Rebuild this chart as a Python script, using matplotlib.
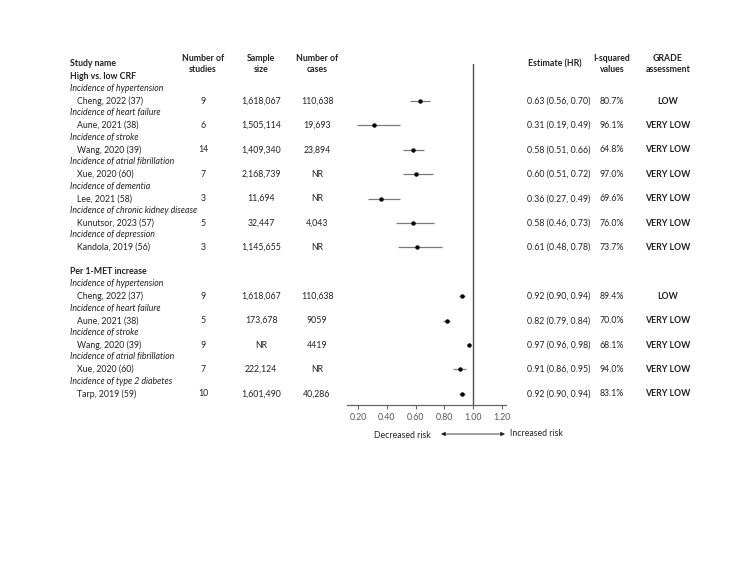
import matplotlib
matplotlib.use("Agg")
import matplotlib.pyplot as plt

plt.rcParams['font.family'] = ['Lato', 'DejaVu Sans']

# ---- data ----
group1_title = "High vs. low CRF"
group2_title = "Per 1-MET increase"

g1_outcomes = ["Incidence of hypertension", "Incidence of heart failure", "Incidence of stroke",
               "Incidence of atrial fibrillation", "Incidence of dementia",
               "Incidence of chronic kidney disease", "Incidence of depression"]
g1_studies = ["Cheng, 2022 (37)", "Aune, 2021 (38)", "Wang, 2020 (39)", "Xue, 2020 (60)",
              "Lee, 2021 (58)", "Kunutsor, 2023 (57)", "Kandola, 2019 (56)"]
g1_n = ["9", "6", "14", "7", "3", "5", "3"]
g1_sample = ["1,618,067", "1,505,114", "1,409,340", "2,168,739", "11,694", "32,447", "1,145,655"]
g1_cases = ["110,638", "19,693", "23,894", "NR", "NR", "4,043", "NR"]
g1_hr = [0.63, 0.31, 0.58, 0.60, 0.36, 0.58, 0.61]
g1_lo = [0.56, 0.19, 0.51, 0.51, 0.27, 0.46, 0.48]
g1_hi = [0.70, 0.49, 0.66, 0.72, 0.49, 0.73, 0.78]
g1_i2 = ["80.7%", "96.1%", "64.8%", "97.0%", "69.6%", "76.0%", "73.7%"]
g1_grade = ["LOW", "VERY LOW", "VERY LOW", "VERY LOW", "VERY LOW", "VERY LOW", "VERY LOW"]

g2_outcomes = ["Incidence of hypertension", "Incidence of heart failure", "Incidence of stroke",
               "Incidence of atrial fibrillation", "Incidence of type 2 diabetes"]
g2_studies = ["Cheng, 2022 (37)", "Aune, 2021 (38)", "Wang, 2020 (39)", "Xue, 2020 (60)", "Tarp, 2019 (59)"]
g2_n = ["9", "5", "9", "7", "10"]
g2_sample = ["1,618,067", "173,678", "NR", "222,124", "1,601,490"]
g2_cases = ["110,638", "9059", "4419", "NR", "40,286"]
g2_hr = [0.92, 0.82, 0.97, 0.91, 0.92]
g2_lo = [0.90, 0.79, 0.96, 0.86, 0.90]
g2_hi = [0.94, 0.84, 0.98, 0.95, 0.94]
g2_i2 = ["89.4%", "70.0%", "68.1%", "94.0%", "83.1%"]
g2_grade = ["LOW", "VERY LOW", "VERY LOW", "VERY LOW", "VERY LOW"]

xticks = [0.20, 0.40, 0.60, 0.80, 1.00, 1.20]

# ---- layout ----
W, H = 733, 566
fig = plt.figure(figsize=(W / 100, H / 100), dpi=100)
fig.patch.set_facecolor('white')

# text layer in pixel coordinates
tax = fig.add_axes([0, 0, 1, 1])
tax.set_xlim(0, W)
tax.set_ylim(H, 0)
tax.axis('off')

ROW0 = 101.0
STEP = 24.4
def rowy(i):
    return ROW0 + i * STEP

FS = 6.3
TC = '#222222'
x_name, x_ind = 70, 77
x_n, x_s, x_c = 203, 261, 317
x_est, x_i2, x_gr = 527, 612, 668

# headers
tax.text(x_name, 64, "Study name", fontsize=FS, fontweight='bold', color=TC, va='center')
for x, t in [(x_n, "Number of\nstudies"), (x_s, "Sample\nsize"), (x_c, "Number of\ncases"),
             (x_i2, "I-squared\nvalues"), (x_gr, "GRADE\nassessment")]:
    tax.text(x, 64, t, fontsize=FS, fontweight='bold', color=TC, ha='center', va='center',
             linespacing=1.35)
tax.text(555, 64, "Estimate (HR)", fontsize=FS, fontweight='bold', color=TC, ha='center', va='center')

def draw_group(title, title_y, start, outcomes, studies, ns, samples, cases, hr, lo, hi, i2, grade):
    tax.text(x_name, title_y, title, fontsize=FS, fontweight='bold', color=TC, va='center')
    for k in range(len(studies)):
        y = rowy(start + k)
        tax.text(x_name, y - 12.6, outcomes[k], fontsize=FS, style='italic', color=TC, va='center')
        tax.text(x_ind, y, studies[k], fontsize=FS, color=TC, va='center')
        tax.text(x_n, y, ns[k], fontsize=FS, color=TC, ha='center', va='center')
        tax.text(x_s, y, samples[k], fontsize=FS, color=TC, ha='center', va='center')
        tax.text(x_c, y, cases[k], fontsize=FS, color=TC, ha='center', va='center')
        tax.text(x_est, y, f"{hr[k]:.2f} ({lo[k]:.2f}, {hi[k]:.2f})", fontsize=FS, color=TC, va='center')
        tax.text(x_i2, y, i2[k], fontsize=FS, color=TC, ha='center', va='center')
        tax.text(x_gr, y, grade[k], fontsize=FS, fontweight='bold', color=TC, ha='center', va='center')

draw_group(group1_title, 76.5, 0, g1_outcomes, g1_studies, g1_n, g1_sample, g1_cases,
           g1_hr, g1_lo, g1_hi, g1_i2, g1_grade)
draw_group(group2_title, 272, 8, g2_outcomes, g2_studies, g2_n, g2_sample, g2_cases,
           g2_hr, g2_lo, g2_hi, g2_i2, g2_grade)

# forest axes
ax_left, ax_right, ax_top, ax_bot = 347, 506, 64, 405
ax = fig.add_axes([ax_left / W, 1 - ax_bot / H, (ax_right - ax_left) / W, (ax_bot - ax_top) / H])
ax.patch.set_alpha(0)
ax.set_xlim(0.122, 1.228)
ax.set_ylim((ax_bot - ROW0) / STEP, (ax_top - ROW0) / STEP)

rows1 = list(range(len(g1_hr)))
rows2 = [8 + k for k in range(len(g2_hr))]
for rows, hr, lo, hi in [(rows1, g1_hr, g1_lo, g1_hi), (rows2, g2_hr, g2_lo, g2_hi)]:
    ax.hlines(rows, lo, hi, color='#7a7a7a', lw=0.9)
    ax.plot(hr, rows, 'o', color='black', ms=2.8, mec='black', mew=0.3)

ax.axvline(1.0, color='#555555', lw=1.0)
for s in ['top', 'right', 'left']:
    ax.spines[s].set_visible(False)
ax.spines['bottom'].set_color('#666666')
ax.spines['bottom'].set_linewidth(0.9)
ax.set_yticks([])
ax.set_xticks(xticks)
ax.set_xticklabels([f"{v:.2f}" for v in xticks])
ax.tick_params(axis='x', colors='#666666', labelsize=FS, length=3, width=0.8, pad=3,
               labelcolor='#555555')

# risk arrow
tax.text(431, 435, "Decreased risk", fontsize=FS, color=TC, ha='right', va='center')
tax.text(510, 434, "Increased risk", fontsize=FS, color=TC, ha='left', va='center')
tax.annotate("", xy=(505, 434), xytext=(441, 434),
             arrowprops=dict(arrowstyle='<|-|>', color='#222222', lw=0.6,
                             mutation_scale=6, shrinkA=0, shrinkB=0))

fig.savefig("out.png", dpi=100, facecolor='white')
